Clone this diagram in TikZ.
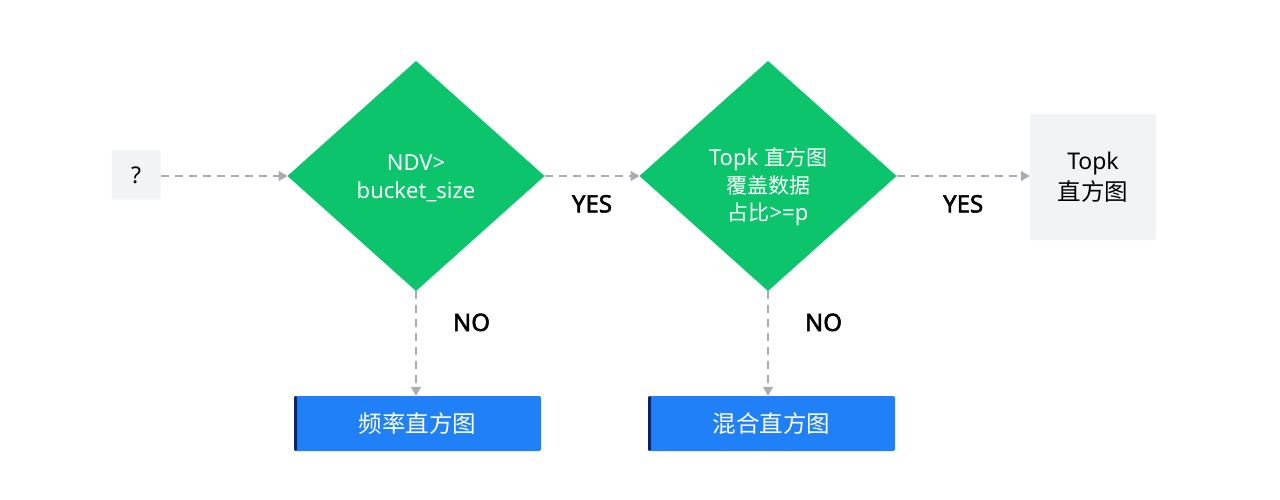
\documentclass[tikz,border=0pt]{standalone}
\usepackage{fontspec}
\setmainfont{Noto Sans}
\newfontfamily\cjk{Noto Sans CJK SC}
\newfontfamily\answerfont{Noto Sans}[FakeBold=2.2]
\usetikzlibrary{shapes.geometric,arrows.meta}
\definecolor{decgreen}{HTML}{0BC46C}
\definecolor{resblue}{HTML}{2080F7}
\definecolor{resdark}{HTML}{0B2466}
\definecolor{boxgray}{HTML}{F2F3F5}
\definecolor{linegray}{HTML}{A9ABB7}
\begin{document}
\begin{tikzpicture}[x=1pt,y=-1pt,
        decision/.style={diamond,fill=decgreen,inner sep=0pt,outer sep=0pt,
            aspect=1.117,minimum width=257pt,minimum height=230pt},
        dtext/.style={text=white,align=center,inner sep=0pt,
            font=\fontsize{22}{27.5}\selectfont},
        result/.style={fill=resblue,text=white,minimum width=247pt,minimum height=55pt,
            inner sep=0pt,rounded corners=2pt,font=\cjk\fontsize{23.5}{26}\selectfont,
            path picture={\fill[resdark] (path picture bounding box.north west)
                rectangle ([xshift=3pt]path picture bounding box.south west);}},
        graybox/.style={fill=boxgray,rounded corners=2pt,inner sep=0pt,align=center,
            font=\fontsize{23}{31}\selectfont},
        flow/.style={draw=linegray,line width=1.4pt,dash pattern=on 8pt off 6pt,
            -{Triangle[length=9pt,width=10pt]}},
        answer/.style={font=\answerfont\fontsize{24}{26}\selectfont}]
\useasboundingbox (0,0) rectangle (1280,500);

\node[graybox,minimum width=49pt,minimum height=49pt] (start) at (136,175) {?};
\node[decision] (ndv) at (416,176) {};
\node[dtext] (ndv-text) at (416,178.5) {NDV>\\bucket\_size};
\node[decision] (cover) at (768,176) {};
\node[dtext] (cover-text) at (768,187) {Topk {\cjk\fontsize{21}{27.5}\selectfont 直方图}\\
    {\cjk\fontsize{21}{27.5}\selectfont 覆盖数据}\\{\cjk\fontsize{21}{27.5}\selectfont 占比}>=p};
\node[graybox,minimum width=126pt,minimum height=126pt] (topk) at (1093,177)
    {Topk\\{\cjk\fontsize{23.5}{31}\selectfont 直方图}};
\node[result] (freq) at (417.5,423.5) {频率直方图};
\node[result] (mixed) at (771.5,423.5) {混合直方图};

\draw[flow] (start.east |- ndv.west) -- (ndv.west);
\draw[flow] (ndv.east) -- (cover.west) node[answer,midway,below=15pt] {YES};
\draw[flow] (cover.east) -- (cover.east -| topk.west) node[answer,midway,below=15pt] {YES};
\draw[flow] (ndv.south) -- (ndv.south |- freq.north) node[answer,pos=0.3,right=33pt] {NO};
\draw[flow] (cover.south) -- (cover.south |- mixed.north) node[answer,pos=0.3,right=33pt] {NO};
\end{tikzpicture}
\end{document}
